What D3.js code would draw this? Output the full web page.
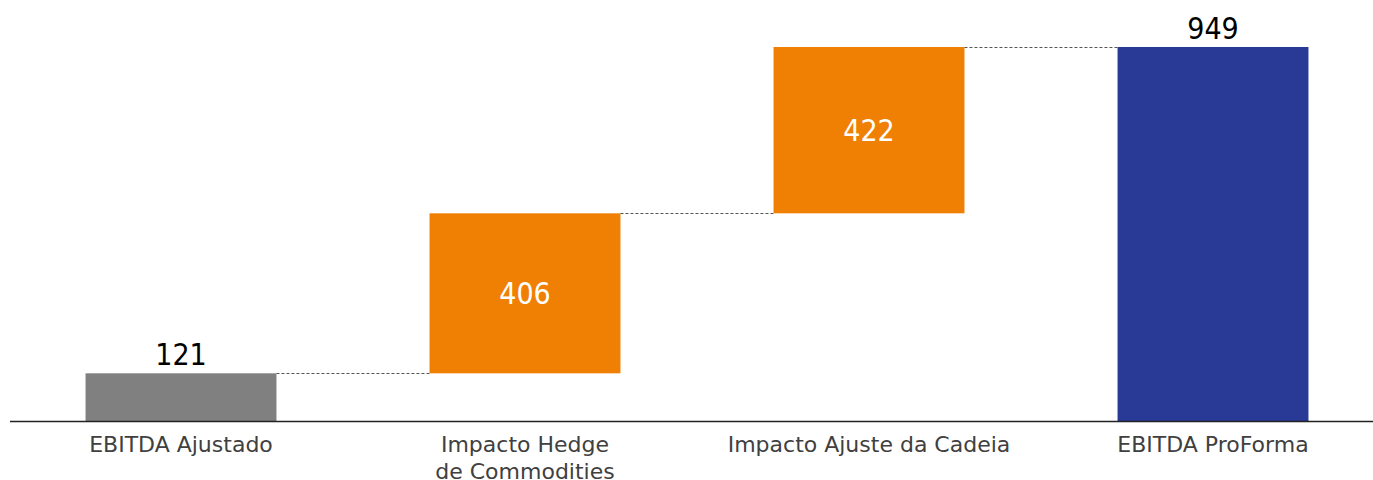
<!DOCTYPE html>
<html>
<head>
<meta charset="utf-8">
<script src="https://cdn.jsdelivr.net/npm/d3@7"></script>
<style>
  body { margin: 0; background: #fff; overflow: hidden; }
  text { font-family: Tahoma, "DejaVu Sans", Verdana, sans-serif; }
  .value { font-family: "DejaVu Sans Condensed", "DejaVu Sans", sans-serif; font-stretch: condensed; }
</style>
</head>
<body>
<div id="chart"></div>
<script>
// Chart data
const categories = ["EBITDA Ajustado", "Impacto Hedge\nde Commodities", "Impacto Ajuste da Cadeia", "EBITDA ProForma"]
const values = [121, 406, 422, 949]
const kinds = ["total", "delta", "delta", "total"]
const colors = { first: "#808080", delta: "#F08004", last: "#283A96" }

const width = 1373
const height = 480
const baseline = 421
const plotTop = 47

// build waterfall steps
let running = 0
const steps = values.map((v, i) => {
    let start, end
    if (kinds[i] === "total") { start = 0; end = v; running = v }
    else { start = running; end = running + v; running = end }
    return { name: categories[i], value: v, start: start, end: end, kind: kinds[i], i: i }
})

const svg = d3.select("#chart").append("svg")
    .attr("width", width)
    .attr("height", height)

const xScale = d3.scaleBand()
    .domain(categories)
    .range([9, 1385])
    .paddingInner(0.445)
    .paddingOuter(0.2225)

const yScale = d3.scaleLinear()
    .domain([0, 949])
    .range([baseline, plotTop])

// bars
svg.selectAll(".bar")
    .data(steps)
    .join("rect")
    .attr("class", "bar")
    .attr("x", d => xScale(d.name))
    .attr("width", xScale.bandwidth())
    .attr("y", d => yScale(d.end))
    .attr("height", d => yScale(d.start) - yScale(d.end))
    .attr("fill", d => d.i === 0 ? colors.first : (d.i === steps.length - 1 ? colors.last : colors.delta))

// dashed connectors between bars
svg.selectAll(".connector")
    .data(steps.slice(0, -1))
    .join("line")
    .attr("class", "connector")
    .attr("x1", d => xScale(d.name) + xScale.bandwidth())
    .attr("x2", d => xScale(categories[d.i + 1]))
    .attr("y1", d => Math.round(yScale(d.end)) + 0.5)
    .attr("y2", d => Math.round(yScale(d.end)) + 0.5)
    .attr("stroke", "#555")
    .attr("stroke-width", 1)
    .attr("stroke-dasharray", "3,2")

// baseline axis
svg.append("line")
    .attr("x1", 10)
    .attr("x2", 1373)
    .attr("y1", baseline + 0.5)
    .attr("y2", baseline + 0.5)
    .attr("stroke", "#222")
    .attr("stroke-width", 1.3)

// value labels
svg.selectAll(".value")
    .data(steps)
    .join("text")
    .attr("class", "value")
    .attr("x", d => xScale(d.name) + xScale.bandwidth() / 2)
    .attr("y", d => d.kind === "total" ? yScale(d.end) - 8 : (yScale(d.start) + yScale(d.end)) / 2)
    .attr("dy", d => d.kind === "total" ? 0 : "0.36em")
    .attr("text-anchor", "middle")
    .attr("font-size", 30)
    .attr("fill", d => d.kind === "total" ? "#000" : "#fff")
    .text(d => d.value)

// category labels
const labels = svg.selectAll(".cat")
    .data(steps)
    .join("text")
    .attr("class", "cat")
    .attr("text-anchor", "middle")
    .attr("font-size", 22)
    .attr("fill", "#404040")

labels.selectAll("tspan")
    .data(d => d.name.split("\n").map(t => ({ t: t, x: xScale(d.name) + xScale.bandwidth() / 2 })))
    .join("tspan")
    .attr("x", d => d.x)
    .attr("y", (d, j) => 452 + j * 27)
    .text(d => d.t)
</script>
</body>
</html>
